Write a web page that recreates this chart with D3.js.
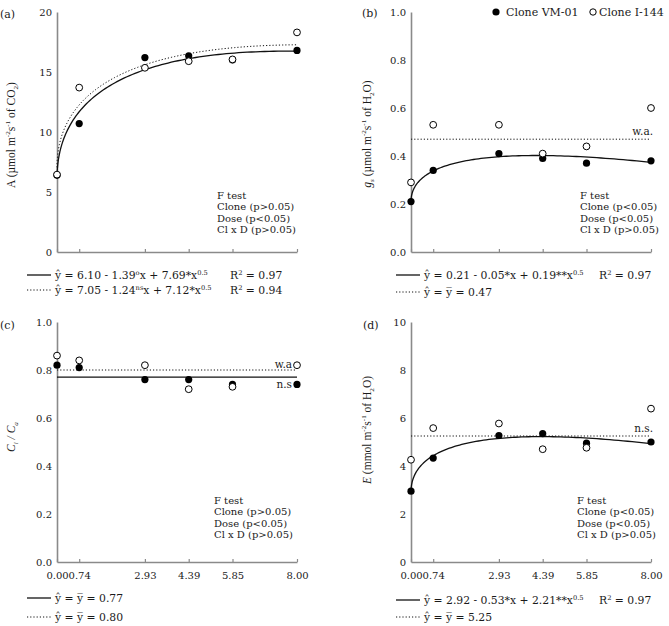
<!DOCTYPE html>
<html><head><meta charset="utf-8">
<script src="https://cdn.jsdelivr.net/npm/d3@7"></script>
<style>
body{margin:0;background:#fff}
text{font-family:"DejaVu Serif",serif;fill:#1a1a1a}
</style>
</head><body>
<svg id="chart" width="669" height="626"></svg>
<script>
// ---------- data ----------
const doses = [0, 0.74, 2.93, 4.39, 5.85, 8];
const xTickLabels = ["0.00", "0.74", "2.93", "4.39", "5.85", "8.00"];
const seriesNames = ["Clone VM-01", "Clone I-144"];

const A_vm  = [6.4, 10.7, 16.2, 16.35, 16.0, 16.8];
const A_i   = [6.45, 13.7, 15.35, 15.9, 16.05, 18.3];
const gs_vm = [0.21, 0.34, 0.41, 0.39, 0.37, 0.38];
const gs_i  = [0.29, 0.53, 0.53, 0.41, 0.44, 0.60];
const ci_vm = [0.82, 0.81, 0.76, 0.76, 0.74, 0.74];
const ci_i  = [0.86, 0.84, 0.82, 0.72, 0.73, 0.82];
const E_vm  = [2.95, 4.33, 5.27, 5.35, 4.95, 5.0];
const E_i   = [4.26, 5.58, 5.77, 4.70, 4.76, 6.39];

// fitted models: y = a - b*x + c*x^0.5
const A_fit_vm  = [6.10, 1.39, 7.69];
const A_fit_i   = [7.05, 1.24, 7.12];
const gs_fit_vm = [0.21, 0.046, 0.188];
const E_fit_vm  = [2.92, 0.53, 2.21];
// means (ŷ = ȳ)
const gs_mean_i  = 0.47;
const ci_mean_vm = 0.77;
const ci_mean_i  = 0.80;
const E_mean_i   = 5.25;

const yTicksA  = [0, 5, 10, 15, 20];
const yTicksGs = [0, 0.2, 0.4, 0.6, 0.8, 1.0];
const yTicksCi = [0, 0.2, 0.4, 0.6, 0.8, 1.0];
const yTicksE  = [0, 2, 4, 6, 8, 10];
const fTestA  = ["F test", "Clone (p>0.05)", "Dose (p<0.05)", "Cl x D (p>0.05)"];
const fTestGs = ["F test", "Clone (p<0.05)", "Dose (p<0.05)", "Cl x D (p>0.05)"];
const fTestCi = ["F test", "Clone (p>0.05)", "Dose (p<0.05)", "Cl x D (p>0.05)"];
const fTestE  = ["F test", "Clone (p<0.05)", "Dose (p<0.05)", "Cl x D (p>0.05)"];

// ---------- helpers ----------
const svg = d3.select("#chart");
const AX = "#8a8a8a";

function rich(g, x, y, segs, opts = {}) {
  const fs = opts.size || 11;
  const t = g.append("text").attr("x", x).attr("y", y).style("font-size", fs + "px");
  if (opts.family) t.style("font-family", opts.family);
  if (opts.anchor) t.attr("text-anchor", opts.anchor);
  if (opts.transform) t.attr("transform", opts.transform);
  let cur = 0;
  segs.forEach(s => {
    const seg = typeof s === "string" ? { t: s } : s;
    const target = seg.sup ? -0.4 * fs : seg.sub ? 0.28 * fs : 0;
    const ts = t.append("tspan").text(seg.t).attr("dy", target - cur);
    cur = target;
    if (seg.sup || seg.sub) ts.style("font-size", (fs * 0.62) + "px");
    if (seg.it) ts.style("font-style", "italic");
  });
  return t;
}

function model(coef) {
  return x => coef[0] - coef[1] * x + coef[2] * Math.sqrt(x);
}

function panel(cfg) {
  const g = svg.append("g");
  const x = d3.scaleLinear().domain([0, 8]).range([cfg.x0, cfg.x0 + 240]);
  const y = d3.scaleLinear().domain(cfg.ydom).range([cfg.yb, cfg.yb - 240]);

  // axes
  const xa = d3.axisBottom(x).tickValues(doses).tickSizeInner(-3).tickSizeOuter(0).tickPadding(10)
    .tickFormat((d, i) => cfg.xlabels ? xTickLabels[i] : "");
  const gx = g.append("g").attr("transform", `translate(0,${cfg.yb})`).call(xa);
  const ya = d3.axisLeft(y).tickValues(cfg.yticks).tickSize(0).tickPadding(5).tickFormat(cfg.yfmt);
  const gy = g.append("g").attr("transform", `translate(${cfg.x0},0)`).call(ya);
  [gx, gy].forEach(a => {
    a.attr("font-family", null).attr("font-size", null);
    a.select(".domain").attr("stroke", AX).attr("stroke-width", 1.6);
    a.selectAll(".tick line").attr("stroke", AX).attr("stroke-width", 1.2);
    a.selectAll(".tick text").style("font-size", "10px").attr("fill", "#1a1a1a");
  });

  // reference / fitted lines
  const line = d3.line().x(d => x(d[0])).y(d => y(d[1]));
  const ts = d3.range(0, 1.0001, 0.01).map(t => 8 * t * t);
  cfg.lines.forEach(L => {
    let pts;
    if (L.coef) { const f = model(L.coef); pts = ts.map(v => [v, f(v)]); }
    else pts = [[0, L.mean], [8, L.mean]];
    g.append("path").attr("d", line(pts)).attr("fill", "none").attr("stroke", "#111")
      .attr("stroke-width", L.dotted ? 1 : 1.3)
      .attr("stroke-dasharray", L.dotted ? "1.2,2" : null);
  });

  // points
  g.selectAll(".pf").data(cfg.vm).join("circle").attr("cx", (d, i) => x(doses[i])).attr("cy", d => y(d))
    .attr("r", 3.6).attr("fill", "#000");
  g.selectAll(".po").data(cfg.ii).join("circle").attr("cx", (d, i) => x(doses[i])).attr("cy", d => y(d))
    .attr("r", 3.4).attr("fill", "#fff").attr("stroke", "#000").attr("stroke-width", 1);

  // F test
  cfg.ftest.forEach((s, i) => g.append("text").attr("x", cfg.fx).attr("y", cfg.fy + i * 11.4)
    .style("font-size", "10px").text(s));

  // panel label
  g.append("text").attr("x", cfg.lx).attr("y", cfg.ly).style("font-size", "11px").text(cfg.label);

  // y title
  rich(g, 0, 0, cfg.ytitle, { size: 11.5, family: "'Liberation Serif', serif", anchor: "middle",
    transform: `translate(${cfg.tx},${cfg.ty}) rotate(-90)` });

  // notes (w.a., n.s.)
  (cfg.notes || []).forEach(n => g.append("text").attr("x", n.x).attr("y", y(n.v) + n.dy)
    .attr("text-anchor", "end").style("font-size", "10.5px").text(n.t));

  // legend equations
  cfg.legend.forEach(r => {
    g.append("line").attr("x1", cfg.lgx).attr("x2", cfg.lgx + 24).attr("y1", r.y).attr("y2", r.y)
      .attr("stroke", "#111").attr("stroke-width", r.dotted ? 1 : 1.3)
      .attr("stroke-dasharray", r.dotted ? "1.2,2" : null);
    rich(g, cfg.lgx + 28, r.y + 4, r.segs, { size: 10.8 });
    if (r.r2) rich(g, cfg.r2x, r.y + 4, ["R", { t: "2", sup: true }, " = " + r.r2], { size: 10.8 });
  });
  return { x, y };
}

const yhat = "ŷ";
const ybar = "y\u0305";

panel({
  x0: 57, yb: 252, ydom: [0, 20], yticks: yTicksA, yfmt: d3.format("d"), xlabels: false,
  vm: A_vm, ii: A_i,
  lines: [{ coef: A_fit_vm }, { coef: A_fit_i, dotted: true }],
  ftest: fTestA, fx: 217, fy: 199,
  label: "(a)", lx: 0, ly: 18,
  ytitle: ["A (µmol m", { t: "-2", sup: true }, "s", { t: "-1", sup: true }, " of CO", { t: "2", sub: true }, ")"],
  tx: 15, ty: 135,
  lgx: 27, r2x: 230,
  legend: [
    { y: 275, segs: [yhat + " = 6.10 - 1.39", { t: "o", sup: true }, "x + 7.69*x", { t: "0.5", sup: true }], r2: "0.97" },
    { y: 290, dotted: true, segs: [yhat + " = 7.05 - 1.24", { t: "ns", sup: true }, "x + 7.12*x", { t: "0.5", sup: true }], r2: "0.94" }
  ]
});

panel({
  x0: 411, yb: 252, ydom: [0, 1], yticks: yTicksGs, yfmt: d3.format(".1f"), xlabels: false,
  vm: gs_vm, ii: gs_i,
  lines: [{ coef: gs_fit_vm }, { mean: gs_mean_i, dotted: true }],
  ftest: fTestGs, fx: 580, fy: 199,
  label: "(b)", lx: 362, ly: 17,
  ytitle: [{ t: "g", it: true }, { t: "s", sub: true, it: true }, " (µmol m", { t: "-2", sup: true }, "s", { t: "-1", sup: true }, " of H", { t: "2", sub: true }, "O)"],
  tx: 371, ty: 134,
  notes: [{ t: "w.a.", x: 653, v: gs_mean_i, dy: -4 }],
  lgx: 396, r2x: 599,
  legend: [
    { y: 275, segs: [yhat + " = 0.21 - 0.05*x + 0.19**x", { t: "0.5", sup: true }], r2: "0.97" },
    { y: 292, dotted: true, segs: [yhat + " = " + ybar + " = 0.47"] }
  ]
});

panel({
  x0: 57, yb: 562, ydom: [0, 1], yticks: yTicksCi, yfmt: d3.format(".1f"), xlabels: true,
  vm: ci_vm, ii: ci_i,
  lines: [{ mean: ci_mean_vm }, { mean: ci_mean_i, dotted: true }],
  ftest: fTestCi, fx: 214, fy: 504,
  label: "(c)", lx: 0, ly: 329,
  ytitle: [{ t: "C", it: true }, { t: "i", sub: true, it: true }, { t: " / ", it: true }, { t: "C", it: true }, { t: "a", sub: true, it: true }],
  tx: 15, ty: 437,
  notes: [{ t: "w.a", x: 292, v: ci_mean_i, dy: -2 }, { t: "n.s", x: 292, v: ci_mean_vm, dy: 11 }],
  lgx: 27, r2x: 230,
  legend: [
    { y: 598, segs: [yhat + " = " + ybar + " = 0.77"] },
    { y: 617, dotted: true, segs: [yhat + " = " + ybar + " = 0.80"] }
  ]
});

panel({
  x0: 411, yb: 562, ydom: [0, 10], yticks: yTicksE, yfmt: d3.format("d"), xlabels: true,
  vm: E_vm, ii: E_i,
  lines: [{ coef: E_fit_vm }, { mean: E_mean_i, dotted: true }],
  ftest: fTestE, fx: 577, fy: 504,
  label: "(d)", lx: 363, ly: 329,
  ytitle: [{ t: "E", it: true }, " (mmol m", { t: "-2", sup: true }, "s", { t: "-1", sup: true }, " of H", { t: "2", sub: true }, "O)"],
  tx: 371, ty: 430,
  notes: [{ t: "n.s.", x: 653, v: E_mean_i, dy: -4 }],
  lgx: 396, r2x: 599,
  legend: [
    { y: 600, segs: [yhat + " = 2.92 - 0.53*x + 2.21**x", { t: "0.5", sup: true }], r2: "0.97" },
    { y: 617, dotted: true, segs: [yhat + " = " + ybar + " = 5.25"] }
  ]
});

// top legend (clones)
const lg = svg.append("g");
lg.append("circle").attr("cx", 496).attr("cy", 12).attr("r", 3.6).attr("fill", "#000");
lg.append("text").attr("x", 506).attr("y", 16).style("font-size", "11px").text(seriesNames[0]);
lg.append("circle").attr("cx", 593).attr("cy", 12).attr("r", 3.2).attr("fill", "#fff").attr("stroke", "#000");
lg.append("text").attr("x", 599).attr("y", 16).style("font-size", "11px").text(seriesNames[1]);
</script>
</body></html>
